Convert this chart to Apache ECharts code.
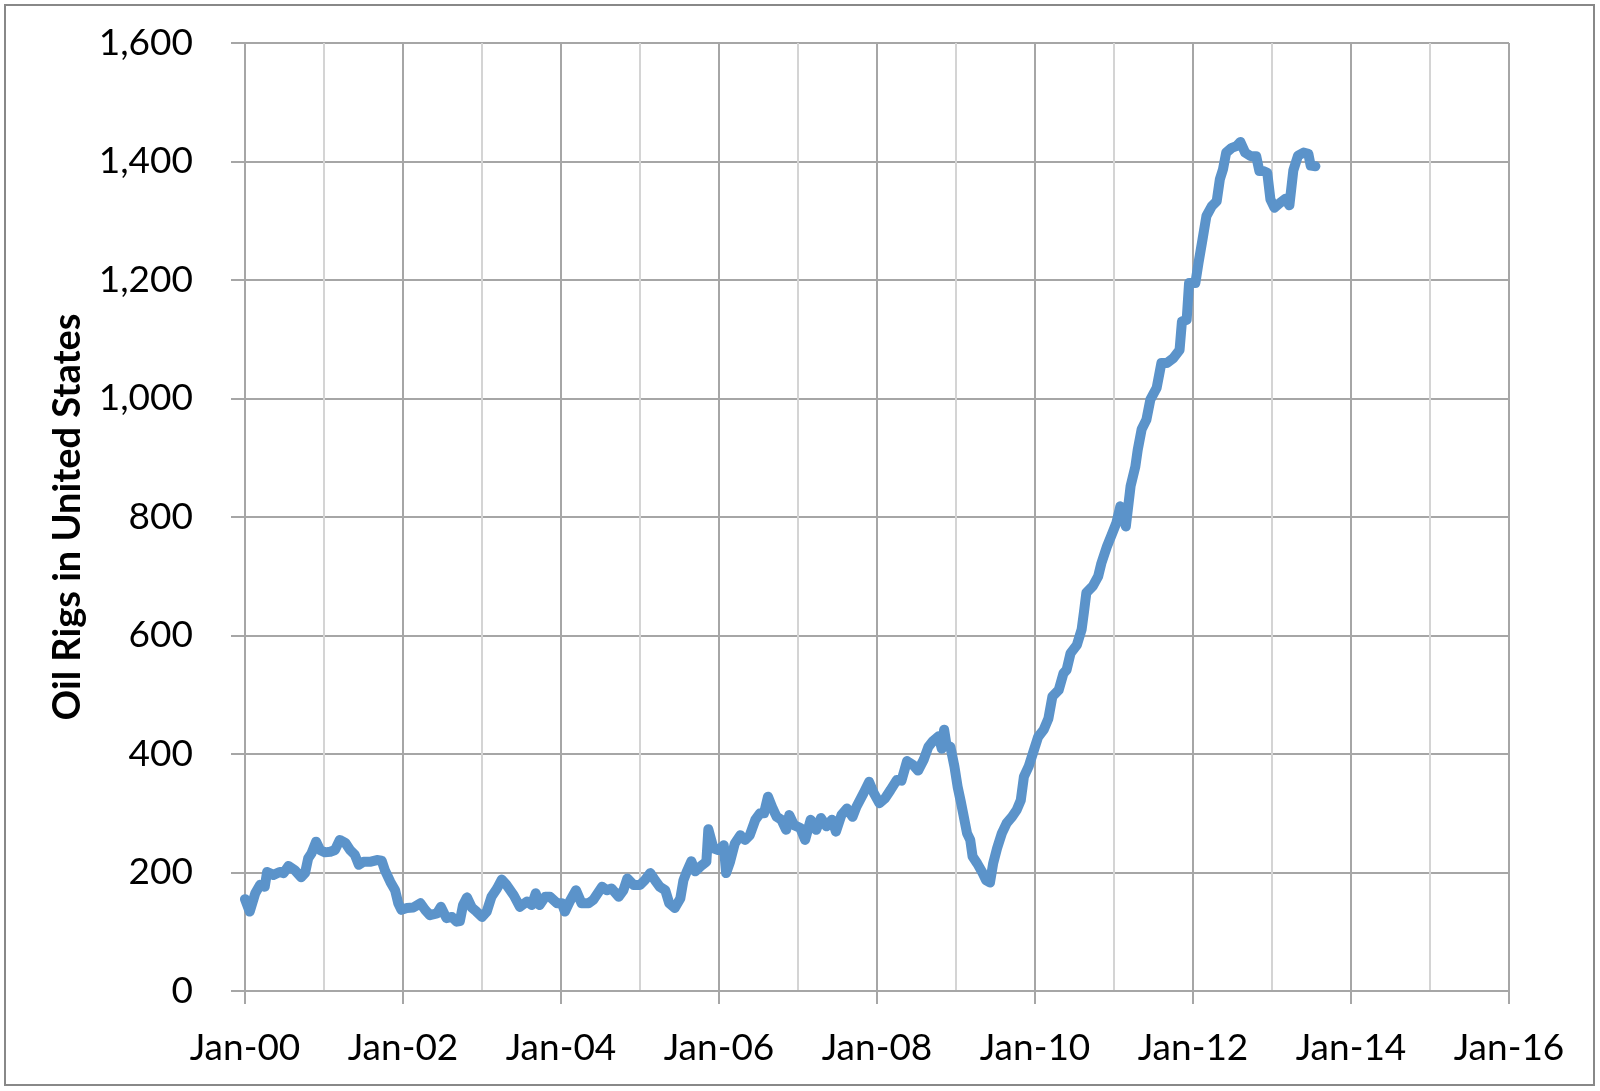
<!DOCTYPE html>
<html>
<head>
<meta charset="utf-8">
<style>
  html, body { margin: 0; padding: 0; background: #ffffff; }
  #chart { width: 1600px; height: 1091px; }
</style>
<script src="https://cdn.jsdelivr.net/npm/echarts@6/dist/echarts.min.js"></script>
</head>
<body>
<div id="chart"></div>
<script>
// Decimal year of each reading
const years = [
  2000.00, 2000.06, 2000.13, 2000.19, 2000.25, 2000.28, 2000.36, 2000.44, 2000.49, 2000.55,
  2000.63, 2000.71, 2000.76, 2000.80, 2000.84, 2000.90, 2000.95, 2001.01, 2001.08, 2001.14,
  2001.20, 2001.27, 2001.33, 2001.39, 2001.44, 2001.50, 2001.58, 2001.67, 2001.73, 2001.77,
  2001.84, 2001.90, 2001.94, 2001.98, 2002.05, 2002.13, 2002.22, 2002.28, 2002.34, 2002.43,
  2002.48, 2002.55, 2002.62, 2002.68, 2002.72, 2002.76, 2002.81, 2002.87, 2002.93, 2003.00,
  2003.06, 2003.12, 2003.19, 2003.25, 2003.31, 2003.40, 2003.48, 2003.57, 2003.63, 2003.68,
  2003.73, 2003.80, 2003.86, 2003.95, 2004.01, 2004.05, 2004.11, 2004.19, 2004.26, 2004.35,
  2004.41, 2004.52, 2004.58, 2004.64, 2004.73, 2004.79, 2004.84, 2004.92, 2005.00, 2005.06,
  2005.13, 2005.19, 2005.25, 2005.32, 2005.37, 2005.44, 2005.51, 2005.55, 2005.59, 2005.65,
  2005.70, 2005.78, 2005.84, 2005.865, 2005.93, 2005.99, 2006.06, 2006.09, 2006.14, 2006.20,
  2006.27, 2006.33, 2006.39, 2006.46, 2006.52, 2006.57, 2006.62, 2006.68, 2006.73, 2006.79,
  2006.85, 2006.89, 2006.95, 2007.03, 2007.09, 2007.16, 2007.23, 2007.29, 2007.36, 2007.43,
  2007.48, 2007.55, 2007.62, 2007.69, 2007.74, 2007.83, 2007.90, 2007.96, 2008.03, 2008.10,
  2008.17, 2008.25, 2008.31, 2008.38, 2008.46, 2008.52, 2008.59, 2008.65, 2008.71, 2008.78,
  2008.82, 2008.85, 2008.88, 2008.93, 2008.98, 2009.02, 2009.06, 2009.09, 2009.14, 2009.18,
  2009.21, 2009.27, 2009.33, 2009.38, 2009.43, 2009.47, 2009.52, 2009.58, 2009.64, 2009.71,
  2009.77, 2009.82, 2009.86, 2009.92, 2009.98, 2010.04, 2010.11, 2010.17, 2010.22, 2010.30,
  2010.36, 2010.40, 2010.45, 2010.53, 2010.59, 2010.62, 2010.65, 2010.73, 2010.80, 2010.84,
  2010.91, 2010.97, 2011.03, 2011.08, 2011.15, 2011.21, 2011.27, 2011.30, 2011.35, 2011.41,
  2011.46, 2011.54, 2011.60, 2011.67, 2011.75, 2011.83, 2011.86, 2011.92, 2011.95, 2012.03,
  2012.07, 2012.12, 2012.17, 2012.24, 2012.30, 2012.34, 2012.38, 2012.42, 2012.49, 2012.55,
  2012.60, 2012.66, 2012.73, 2012.80, 2012.84, 2012.89, 2012.94, 2012.98, 2013.03, 2013.10,
  2013.17, 2013.22, 2013.27, 2013.33, 2013.40, 2013.46, 2013.49, 2013.55
];

// Oil rigs in the United States at each reading
const rigs = [
  155, 134, 165, 179, 176, 201, 196, 201, 199, 211,
  204, 192, 199, 224, 232, 252, 238, 234, 235, 238,
  255, 250, 238, 230, 213, 218, 218, 221, 220, 204,
  184, 170, 148, 137, 140, 141, 148, 137, 128, 131,
  142, 123, 125, 117, 118, 145, 158, 141, 134, 125,
  134, 159, 173, 188, 179, 162, 142, 151, 145, 165,
  145, 159, 159, 148, 148, 134, 151, 170, 148, 148,
  154, 176, 170, 173, 159, 170, 190, 179, 179, 187,
  199, 187, 176, 170, 148, 140, 156, 187, 201, 219,
  202, 212, 218, 273, 241, 238, 246, 199, 218, 249,
  263, 255, 263, 289, 300, 300, 328, 308, 294, 289,
  272, 297, 280, 275, 255, 289, 272, 292, 278, 289,
  269, 297, 308, 294, 311, 334, 353, 334, 317, 325,
  339, 356, 355, 388, 381, 372, 390, 412, 422, 430,
  409, 441, 415, 412, 379, 345, 320, 300, 266, 255,
  227, 215, 201, 187, 183, 215, 241, 266, 283, 294,
  306, 322, 362, 379, 404, 429, 441, 460, 497, 508,
  536, 542, 570, 584, 610, 640, 672, 683, 700, 722,
  750, 770, 790, 818, 784, 852, 885, 913, 948, 964,
  998, 1018, 1060, 1060, 1068, 1082, 1130, 1133, 1195, 1195,
  1229, 1268, 1308, 1325, 1333, 1370, 1387, 1415, 1423, 1426,
  1433, 1415, 1409, 1409, 1384, 1384, 1381, 1336, 1322, 1330,
  1337, 1326, 1385, 1410, 1415, 1413, 1393, 1392
];

const yTicks = { min: 0, max: 1600, step: 200 };
const xTicks = { min: 2000, max: 2016, step: 2 };
const yTitle = 'Oil Rigs in United States';

const seriesData = years.map((y, i) => [y, rigs[i]]);

const chart = echarts.init(document.getElementById('chart'), null, { renderer: 'canvas' });
const fontFamily = 'Lato, "Open Sans", "DejaVu Sans", sans-serif';

chart.setOption({
  animation: false,
  backgroundColor: '#ffffff',
  graphic: [{
    type: 'rect',
    shape: { x: 5, y: 5, width: 1589, height: 1080 },
    style: { fill: 'none', stroke: '#888888', lineWidth: 2 },
    silent: true
  }],
  grid: { left: 245, right: 91, top: 43, bottom: 100, containLabel: false },
  xAxis: {
    type: 'value',
    min: xTicks.min,
    max: xTicks.max,
    interval: xTicks.step,
    axisLine: { show: true, lineStyle: { color: '#a6a6a6', width: 2 } },
    axisTick: { show: true, inside: false, length: 13, lineStyle: { color: '#a6a6a6', width: 2 } },
    minorTick: { show: false, splitNumber: 2 },
    minorSplitLine: { show: true, lineStyle: { color: '#d4d4d4', width: 2 } },
    splitLine: { show: true, lineStyle: { color: '#a6a6a6', width: 2 } },
    axisLabel: {
      margin: 39,
      color: '#000000',
      fontFamily: fontFamily,
      fontSize: 37,
      formatter: v => 'Jan-' + String(Math.round(v) % 100).padStart(2, '0')
    }
  },
  yAxis: {
    type: 'value',
    min: yTicks.min,
    max: yTicks.max,
    interval: yTicks.step,
    name: yTitle,
    nameLocation: 'middle',
    nameGap: 158,
    nameRotate: 90,
    nameTextStyle: {
      color: '#000000',
      fontFamily: fontFamily,
      fontWeight: 'bold',
      fontSize: 38
    },
    axisLine: { show: true, lineStyle: { color: '#a6a6a6', width: 2 } },
    axisTick: { show: true, inside: false, length: 14, lineStyle: { color: '#a6a6a6', width: 2 } },
    splitLine: { show: true, lineStyle: { color: '#a6a6a6', width: 2 } },
    axisLabel: {
      margin: 52,
      color: '#000000',
      fontFamily: fontFamily,
      fontSize: 37,
      formatter: v => v.toLocaleString('en-US')
    }
  },
  series: [{
    type: 'line',
    data: seriesData,
    showSymbol: false,
    symbol: 'none',
    smooth: false,
    lineStyle: { color: '#5b93ca', width: 10, join: 'round', cap: 'round' },
    z: 3
  }]
});
</script>
</body>
</html>
